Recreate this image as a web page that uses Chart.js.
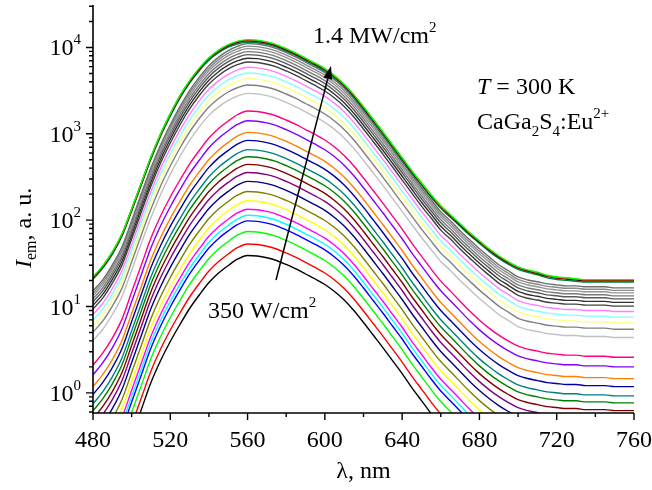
<!DOCTYPE html>
<html>
<head>
<meta charset="utf-8">
<script src="https://cdn.jsdelivr.net/npm/chart.js@4.4.0/dist/chart.umd.min.js"></script>
<style>
  html, body { margin: 0; padding: 0; background: #ffffff; }
  #wrap { width: 652px; height: 490px; }
</style>
</head>
<body>
<div id="wrap"><canvas id="chart" width="652" height="490"></canvas></div>
<script>
// Emission wavelength grid, nm
const wavelengths = [480,485,490,495,500,505,510,515,520,525,530,535,540,545,550,555,560,565,570,575,
  580,585,590,595,600,605,610,615,620,625,630,635,640,645,650,655,660,665,670,675,
  680,685,690,695,700,705,710,715,720,725,730,735,740,745,750,755,760];

// Spectrum at the highest excitation density (1.4 MW/cm2), a. u.
const spectrumTop = [22.1,29.6,43.0,69.6,135.6,271.3,542.8,1003,1710,2764,4125,5757,7617,9305,10776,11830,12314,12150,11600,10776,
  9686,8590,7516,6579,5680,4712,3756,2839,2061,1477,1057,747.6,528.6,373.6,271.3,197.0,146.9,115.5,90.8,71.5,
  57.7,46.6,38.7,33.0,28.8,26.6,25.0,23.0,22.0,21.5,21.0,20.5,20.5,20.5,20.5,20.5,20.5];

// Spectrum with a 5885 a.u. maximum (upper-middle group)
const spectrumMid = [8.09,10.84,16.18,26.15,52.35,107.6,215.2,397.7,678.0,1096,1680,2408,3272,4105,4882,5505,5885,5807,5544,5150,
  4629,4105,3592,3144,2714,2252,1795,1357,985,705.9,505.1,357.3,252.6,178.5,126.2,91.7,66.5,52.3,40.1,31.5,
  24.8,20.0,16.2,13.8,11.7,10.8,10.3,9.73,9.49,9.24,9.24,9.00,9.00,9.00,8.75,8.75,8.75];

// Spectrum with a 1837 a.u. maximum (lower group)
const spectrumLow = [2.095,2.884,4.303,7.146,14.69,30.18,62.02,111.6,185.3,291.5,446.9,640.5,893.8,1151.7,1406.8,1673,1837,1812.5,1730.5,1607.6,
  1445.0,1281.5,1121.2,981.5,847.3,702.9,560.3,423.5,307.5,220.3,157.7,111.5,78.86,54.27,38.37,27.13,19.70,15.08,11.54,8.85,
  6.95,5.62,4.66,3.98,3.47,3.21,3.04,2.88,2.81,2.74,2.74,2.66,2.66,2.66,2.59,2.59,2.59];

// Band maximum of every spectrum, from 350 W/cm2 up to 1.4 MW/cm2
const peakIntensity = [39, 53, 74, 98, 114, 134, 168, 215, 281, 357, 442, 543, 655, 839, 1038, 1418, 1837,
  2340, 2940, 3675, 4350, 5065, 5885, 6790, 7510, 8250, 8940, 9680, 10350, 11060, 11500, 11950, 12150, 12314];

// Which reference line shape each spectrum follows (0 = low, 1 = mid, 2 = top)
const shapeGroup = [0,0,0,0,0,0,0,0,0,0,0,0,0,0,0,0,0,0,
  1,1,1,1,1,1,1,1,1,1,1,1, 2,2,2,2];

// Line colours in the same order
const lineColors = ['#000000','#ff0000','#00ff00','#0000ff','#00ffff','#ff00ff','#ffff00','#808000',
  '#000080','#800080','#800000','#008000','#008080','#0000a0','#ff8000','#8000ff','#ff0080',
  '#ffffff','#c0c0c0','#808080','#ffff80','#80ffff','#ff80ff','#404040',
  '#303030','#5a5a5a','#7a7a7a','#949494','#8a8a8a','#6e6e6e','#008040','#000000','#ff0000','#00ff00'];

const xMajorTicks = [480, 520, 560, 600, 640, 680, 720, 760];
const xMinorTicks = [500, 540, 580, 620, 660, 700, 740];
const yDecades = [0, 1, 2, 3, 4];

const shapes = [spectrumLow, spectrumMid, spectrumTop];
const datasets = peakIntensity.map((peak, i) => {
  const shape = shapes[shapeGroup[i]];
  const shapePeak = Math.max(...shape);
  return {
    label: 'spectrum ' + (i + 1),
    data: wavelengths.map((w, j) => ({ x: w, y: shape[j] * peak / shapePeak })),
    borderColor: lineColors[i],
    borderWidth: 1.4,
    pointRadius: 0,
    fill: false,
    cubicInterpolationMode: 'monotone',
    order: peakIntensity.length - i
  };
});

const SERIF = '"Liberation Serif", "DejaVu Serif", serif';

// Draws a run of text pieces (normal, sub/superscript, italic) left to right
function drawRuns(ctx, runs, x, y) {
  let cx = x;
  for (const r of runs) {
    ctx.font = (r.italic ? 'italic ' : '') + r.size + 'px ' + SERIF;
    ctx.fillText(r.t, cx, y + (r.dy || 0));
    cx += ctx.measureText(r.t).width;
  }
  return cx;
}
function runsWidth(ctx, runs) {
  let w = 0;
  for (const r of runs) {
    ctx.font = (r.italic ? 'italic ' : '') + r.size + 'px ' + SERIF;
    w += ctx.measureText(r.t).width;
  }
  return w;
}

const axesPlugin = {
  id: 'axesAndLabels',
  afterDraw(chart) {
    const { ctx, chartArea: a, scales } = chart;
    const xs = scales.x, ys = scales.y;
    ctx.save();
    ctx.strokeStyle = '#000';
    ctx.fillStyle = '#000';
    ctx.lineWidth = 1.6;
    ctx.lineCap = 'butt';

    // axis lines
    ctx.beginPath();
    ctx.moveTo(a.left, a.top);
    ctx.lineTo(a.left, a.bottom);
    ctx.lineTo(a.right, a.bottom);
    ctx.stroke();

    // x ticks
    ctx.lineWidth = 1.4;
    ctx.beginPath();
    for (const v of xMajorTicks) {
      const px = xs.getPixelForValue(v);
      ctx.moveTo(px, a.bottom); ctx.lineTo(px, a.bottom + 7);
    }
    for (const v of xMinorTicks) {
      const px = xs.getPixelForValue(v);
      ctx.moveTo(px, a.bottom); ctx.lineTo(px, a.bottom + 4);
    }
    // y ticks (log decades and their minors)
    for (let e = -1; e <= 4; e++) {
      for (let m = 1; m <= 9; m++) {
        const v = m * Math.pow(10, e);
        if (v < ys.min || v > ys.max) continue;
        const py = ys.getPixelForValue(v);
        ctx.moveTo(a.left, py); ctx.lineTo(a.left - (m === 1 ? 7 : 4), py);
      }
    }
    ctx.stroke();

    // x tick labels
    ctx.textBaseline = 'alphabetic';
    ctx.textAlign = 'center';
    ctx.font = '24px ' + SERIF;
    for (const v of xMajorTicks) {
      ctx.fillText(String(v), xs.getPixelForValue(v), 447);
    }

    // y tick labels 10^n
    ctx.textAlign = 'left';
    for (const e of yDecades) {
      const py = ys.getPixelForValue(Math.pow(10, e));
      const runs = [{ t: '10', size: 24 }, { t: String(e), size: 15, dy: -11 }];
      const w = runsWidth(ctx, runs);
      drawRuns(ctx, runs, 81 - w, py + 8);
    }

    // x axis title
    ctx.textAlign = 'center';
    ctx.font = '24px ' + SERIF;
    ctx.fillText('\u03bb, nm', (a.left + a.right) / 2, 478);

    // y axis title, rotated
    ctx.save();
    ctx.translate(31, 268);
    ctx.rotate(-Math.PI / 2);
    ctx.textAlign = 'left';
    drawRuns(ctx, [
      { t: 'I', size: 24, italic: true },
      { t: 'em', size: 16, dy: 5 },
      { t: ', a. u.', size: 24 }
    ], 0, 0);
    ctx.restore();

    // annotations
    ctx.textAlign = 'left';
    drawRuns(ctx, [{ t: '1.4 MW/cm', size: 24 }, { t: '2', size: 15, dy: -11 }], 313, 43);
    drawRuns(ctx, [{ t: '350 W/cm', size: 24 }, { t: '2', size: 15, dy: -11 }], 208, 318);
    drawRuns(ctx, [{ t: 'T', size: 24, italic: true }, { t: ' = 300 K', size: 24 }], 477, 94);
    drawRuns(ctx, [
      { t: 'CaGa', size: 24 }, { t: '2', size: 15, dy: 7 },
      { t: 'S', size: 24 }, { t: '4', size: 15, dy: 7 },
      { t: ':Eu', size: 24 }, { t: '2+', size: 15, dy: -11 }
    ], 477, 129);

    // arrow pointing towards higher excitation density
    const x0 = 276, y0 = 280, x1 = 331, y1 = 66;
    const ang = Math.atan2(y1 - y0, x1 - x0);
    const headLen = 13, headW = 4.5;
    const bx = x1 - headLen * Math.cos(ang), by = y1 - headLen * Math.sin(ang);
    ctx.lineWidth = 1.5;
    ctx.beginPath();
    ctx.moveTo(x0, y0); ctx.lineTo(bx, by);
    ctx.stroke();
    ctx.beginPath();
    ctx.moveTo(x1, y1);
    ctx.lineTo(bx + headW * Math.sin(ang), by - headW * Math.cos(ang));
    ctx.lineTo(bx - headW * Math.sin(ang), by + headW * Math.cos(ang));
    ctx.closePath();
    ctx.fill();

    ctx.restore();
  }
};

new Chart(document.getElementById('chart'), {
  type: 'line',
  data: { datasets },
  options: {
    responsive: false,
    animation: false,
    devicePixelRatio: 1,
    layout: { padding: { left: 93, top: 5, right: 18, bottom: 77 } },
    scales: {
      x: { type: 'linear', min: 480, max: 760, display: false },
      y: { type: 'logarithmic', min: 0.585, max: 31000, display: false }
    },
    plugins: { legend: { display: false }, tooltip: { enabled: false } }
  },
  plugins: [axesPlugin]
});
</script>
</body>
</html>
